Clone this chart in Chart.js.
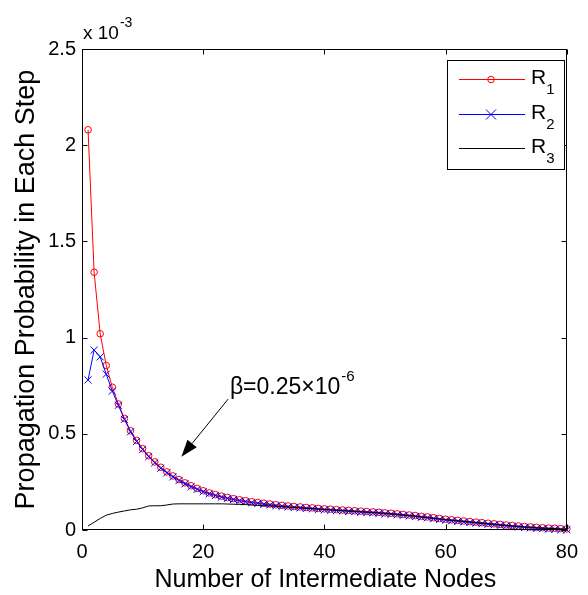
<!DOCTYPE html>
<html>
<head>
<meta charset="utf-8">
<script src="https://cdn.jsdelivr.net/npm/chart.js@4.4.1/dist/chart.umd.min.js"></script>
<style>
  body { margin: 0; background: #fff; }
  #wrap { width: 588px; height: 595px; }
</style>
</head>
<body>
<div id="wrap"><canvas id="c" width="588" height="595"></canvas></div>
<script>
const FONT = '"Liberation Sans", Arial, sans-serif';

// values are in units of 1e-3 (axis shows "x 10^-3")
const nodes = [
  1, 2, 3, 4, 5, 6, 7, 8, 9, 10, 11, 12, 13, 14, 15, 16, 17, 18, 19, 20,
  21, 22, 23, 24, 25, 26, 27, 28, 29, 30, 31, 32, 33, 34, 35, 36, 37, 38, 39, 40,
  41, 42, 43, 44, 45, 46, 47, 48, 49, 50, 51, 52, 53, 54, 55, 56, 57, 58, 59, 60,
  61, 62, 63, 64, 65, 66, 67, 68, 69, 70, 71, 72, 73, 74, 75, 76, 77, 78, 79, 80
];
const r1 = [
  2.08, 1.34, 1.02, 0.855, 0.742, 0.655, 0.58, 0.516, 0.466, 0.423,
  0.386, 0.354, 0.326, 0.302, 0.281, 0.262, 0.245, 0.230, 0.216, 0.204,
  0.193, 0.184, 0.176, 0.169, 0.163, 0.157, 0.152, 0.147, 0.143, 0.139,
  0.135, 0.131, 0.128, 0.125, 0.122, 0.120, 0.117, 0.115, 0.112, 0.110,
  0.108, 0.106, 0.104, 0.102, 0.100, 0.098, 0.096, 0.094, 0.092, 0.089,
  0.087, 0.084, 0.081, 0.078, 0.075, 0.071, 0.068, 0.064, 0.060, 0.056,
  0.053, 0.050, 0.047, 0.044, 0.041, 0.038, 0.035, 0.032, 0.029, 0.026,
  0.023, 0.021, 0.018, 0.016, 0.014, 0.012, 0.010, 0.009, 0.007, 0.006
];
const r2 = [
  0.78, 0.935, 0.90, 0.81, 0.722, 0.648, 0.575, 0.51, 0.46, 0.418,
  0.381, 0.349, 0.321, 0.297, 0.276, 0.257, 0.240, 0.225, 0.211, 0.199,
  0.188, 0.179, 0.171, 0.164, 0.158, 0.152, 0.147, 0.142, 0.138, 0.134,
  0.130, 0.126, 0.123, 0.120, 0.117, 0.115, 0.112, 0.110, 0.107, 0.105,
  0.103, 0.101, 0.099, 0.097, 0.095, 0.093, 0.091, 0.089, 0.087, 0.084,
  0.082, 0.079, 0.076, 0.073, 0.070, 0.066, 0.063, 0.059, 0.055, 0.051,
  0.048, 0.045, 0.042, 0.039, 0.036, 0.033, 0.030, 0.027, 0.024, 0.021,
  0.018, 0.016, 0.013, 0.011, 0.009, 0.007, 0.005, 0.004, 0.002, 0.001
];
const r3 = [
  0.021, 0.040, 0.060, 0.077, 0.086, 0.093, 0.099, 0.105, 0.108, 0.115,
  0.125, 0.126, 0.126, 0.130, 0.135, 0.136, 0.136, 0.136, 0.136, 0.136,
  0.136, 0.136, 0.136, 0.135, 0.134, 0.133, 0.132, 0.130, 0.128, 0.127,
  0.125, 0.123, 0.121, 0.119, 0.117, 0.115, 0.113, 0.111, 0.109, 0.107,
  0.105, 0.103, 0.101, 0.099, 0.097, 0.095, 0.093, 0.091, 0.089, 0.087,
  0.084, 0.081, 0.078, 0.075, 0.072, 0.068, 0.065, 0.061, 0.057, 0.054,
  0.051, 0.048, 0.045, 0.042, 0.039, 0.036, 0.033, 0.030, 0.027, 0.024,
  0.021, 0.019, 0.016, 0.014, 0.012, 0.010, 0.008, 0.007, 0.005, 0.004
];
const xTicks = [0, 20, 40, 60, 80];
const yTicks = [0, 0.5, 1, 1.5, 2, 2.5];
const seriesSubs = ['1', '2', '3'];
const seriesColors = ['#ff0000', '#0000ff', '#000000'];

// annotation anchor points, in data units
const noteText = [24.4, 0.705];
const arrowFrom = [24.1, 0.68];
const arrowTo = [16.4, 0.381];

function toPoints(ys) {
  return nodes.map((n, i) => ({ x: n, y: ys[i] }));
}

const framePlugin = {
  id: 'frame',
  afterDraw(chart) {
    const { ctx, chartArea: a, scales: { x, y } } = chart;
    ctx.save();
    ctx.strokeStyle = '#000';
    ctx.fillStyle = '#000';
    ctx.lineWidth = 1;

    // box + inward ticks on all four sides
    const L = Math.round(a.left) + 0.5, R = Math.round(a.right) - 0.5;
    const T = Math.round(a.top) + 0.5, B = Math.round(a.bottom) - 0.5;
    ctx.strokeRect(L, T, R - L, B - T);
    ctx.beginPath();
    xTicks.forEach(v => {
      const p = Math.round(x.getPixelForValue(v)) + 0.5;
      ctx.moveTo(p, B); ctx.lineTo(p, B - 5);
      ctx.moveTo(p, T); ctx.lineTo(p, T + 5);
    });
    yTicks.forEach(v => {
      const p = Math.round(y.getPixelForValue(v)) + 0.5;
      ctx.moveTo(L, p); ctx.lineTo(L + 5, p);
      ctx.moveTo(R, p); ctx.lineTo(R - 5, p);
    });
    ctx.stroke();

    // exponent label
    ctx.textBaseline = 'alphabetic';
    ctx.textAlign = 'left';
    ctx.font = '19px ' + FONT;
    ctx.fillText('x 10', 83, 39);
    const w10 = ctx.measureText('x 10').width;
    ctx.font = '14px ' + FONT;
    ctx.fillText('-3', 83 + w10 + 1, 27);

    // axis titles
    ctx.font = '25px ' + FONT;
    ctx.textAlign = 'center';
    ctx.fillText('Number of Intermediate Nodes', (a.left + a.right) / 2 + 1, 587);
    ctx.save();
    ctx.translate(34, (a.top + a.bottom) / 2);
    ctx.rotate(-Math.PI / 2);
    ctx.font = '27px ' + FONT;
    ctx.fillText('Propagation Probability in Each Step', 0, 0);
    ctx.restore();

    // annotation
    const tx = x.getPixelForValue(noteText[0]), ty = y.getPixelForValue(noteText[1]);
    ctx.textAlign = 'left';
    ctx.font = '23px ' + FONT;
    const main = 'β=0.25×10';
    ctx.fillText(main, tx, ty);
    const mw = ctx.measureText(main).width;
    ctx.font = '15px ' + FONT;
    ctx.fillText('-6', tx + mw + 1, ty - 13);

    const fx = x.getPixelForValue(arrowFrom[0]), fy = y.getPixelForValue(arrowFrom[1]);
    const ex = x.getPixelForValue(arrowTo[0]), ey = y.getPixelForValue(arrowTo[1]);
    const ang = Math.atan2(ey - fy, ex - fx);
    const hl = 17, hw = 6;
    const bx = ex - hl * Math.cos(ang), by = ey - hl * Math.sin(ang);
    ctx.beginPath();
    ctx.moveTo(fx, fy); ctx.lineTo(bx, by);
    ctx.stroke();
    ctx.beginPath();
    ctx.moveTo(ex, ey);
    ctx.lineTo(bx + hw * Math.sin(ang), by - hw * Math.cos(ang));
    ctx.lineTo(bx - hw * Math.sin(ang), by + hw * Math.cos(ang));
    ctx.closePath();
    ctx.fill();

    // legend
    const lx = 447.5, ly = 60.5, lw = 117, lh = 109;
    ctx.fillStyle = '#fff';
    ctx.fillRect(lx, ly, lw, lh);
    ctx.strokeStyle = '#000';
    ctx.strokeRect(lx, ly, lw, lh);
    const rows = [79.5, 114.5, 148.5];
    rows.forEach((ry, i) => {
      ctx.strokeStyle = seriesColors[i];
      ctx.lineWidth = 1;
      ctx.beginPath();
      ctx.moveTo(459, ry); ctx.lineTo(525, ry);
      ctx.stroke();
      if (i === 0) {
        ctx.beginPath();
        ctx.arc(491, ry, 3.3, 0, Math.PI * 2);
        ctx.stroke();
      } else if (i === 1) {
        ctx.beginPath();
        ctx.moveTo(486, ry - 5); ctx.lineTo(496, ry + 5);
        ctx.moveTo(486, ry + 5); ctx.lineTo(496, ry - 5);
        ctx.stroke();
      }
      ctx.fillStyle = '#000';
      ctx.textAlign = 'left';
      ctx.font = '21px ' + FONT;
      ctx.fillText('R', 531, ry + 4);
      const rw = ctx.measureText('R').width;
      ctx.font = '15px ' + FONT;
      ctx.fillText(seriesSubs[i], 531 + rw, ry + 14);
    });
    ctx.restore();
  }
};

window.addEventListener('load', () => {
  const ctx = document.getElementById('c').getContext('2d');
  new Chart(ctx, {
    type: 'line',
    data: {
      datasets: [
        {
          label: 'R1', data: toPoints(r1), order: 3, clip: false,
          borderColor: '#ff0000', borderWidth: 1,
          pointStyle: 'circle', pointRadius: 3.3,
          pointBorderColor: '#ff0000', pointBackgroundColor: 'rgba(0,0,0,0)',
          pointBorderWidth: 1, tension: 0
        },
        {
          label: 'R2', data: toPoints(r2), order: 2, clip: false,
          borderColor: '#0000ff', borderWidth: 1,
          pointStyle: 'crossRot', pointRadius: 5,
          pointBorderColor: '#0000ff', pointBorderWidth: 1, tension: 0
        },
        {
          label: 'R3', data: toPoints(r3), order: 1, clip: false,
          borderColor: '#000000', borderWidth: 1,
          pointRadius: 0, tension: 0
        }
      ]
    },
    options: {
      responsive: false,
      animation: false,
      devicePixelRatio: 1,
      layout: { padding: { top: 49, right: 11, bottom: 0, left: 0 } },
      plugins: { legend: { display: false }, tooltip: { enabled: false } },
      scales: {
        x: {
          type: 'linear', min: 0, max: 80,
          grid: { display: false, drawTicks: false }, border: { display: false },
          afterFit: s => { s.height = 65; },
          afterBuildTicks: s => { s.ticks = xTicks.map(v => ({ value: v })); },
          ticks: {
            color: '#000', padding: 10, maxRotation: 0,
            font: { family: FONT, size: 20 },
            callback: v => String(v)
          }
        },
        y: {
          min: 0, max: 2.5,
          grid: { display: false, drawTicks: false }, border: { display: false },
          afterFit: s => { s.width = 82; },
          afterBuildTicks: s => { s.ticks = yTicks.map(v => ({ value: v })); },
          ticks: {
            color: '#000', padding: 6,
            font: { family: FONT, size: 20 },
            callback: v => String(v)
          }
        }
      }
    },
    plugins: [framePlugin]
  });
});
</script>
</body>
</html>
